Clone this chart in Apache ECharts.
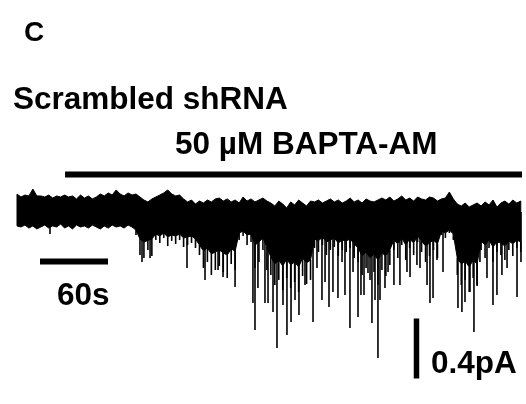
<!DOCTYPE html>
<html>
<head>
<meta charset="utf-8">
<script src="https://cdn.jsdelivr.net/npm/echarts@6/dist/echarts.min.js"></script>
<style>
  html, body { margin: 0; padding: 0; background: #fff; }
  #chart { width: 526px; height: 404px; }
</style>
</head>
<body>
<div id="chart"></div>
<script>
// Holding current (pA) vs time (s). The trace is stored as a downsampled
// envelope every 3.5 s: upper edge of the noise, lower edge of the solid
// band, and the tips of the dense downward deflections; plus the larger
// individual inward events (time, peak current).
const sampleStep = 3.5; // s between envelope samples

const traceTop = [
  0.12, 0.10, 0.113, 0.107, 0.153, 0.107,
  0.107, 0.10, 0.113, 0.093, 0.107, 0.10, 0.113,
  0.10, 0.107, 0.087, 0.113, 0.093, 0.107, 0.087, 0.10,
  0.12, 0.107, 0.127, 0.113, 0.147, 0.12, 0.107, 0.127, 0.113, 0.12, 0.10,
  0.08, 0.067, 0.087, 0.10,
  0.113, 0.127, 0.147, 0.12, 0.107, 0.113,
  0.087, 0.067, 0.08, 0.053, 0.073, 0.06, 0.08, 0.067, 0.087,
  0.093, 0.073, 0.087, 0.067, 0.08, 0.06, 0.10, 0.073, 0.087, 0.067, 0.08, 0.093, 0.073,
  0.06, 0.04, 0.073, 0.053, 0.027, 0.067, 0.047, 0.08, 0.06, 0.04, 0.073,
  0.067, 0.08, 0.06, 0.073, 0.087, 0.067, 0.08, 0.06, 0.073, 0.093, 0.067, 0.08, 0.06, 0.087, 0.073, 0.067, 0.08,
  0.093, 0.08, 0.10, 0.073, 0.087, 0.107, 0.08, 0.093, 0.073, 0.10, 0.087, 0.08, 0.10, 0.093, 0.073, 0.087, 0.093, 0.133, 0.087,
  0.053, 0.04, 0.06, 0.033, 0.047, 0.06, 0.04,
  0.067, 0.047, 0.08, 0.033, 0.06, 0.073, 0.053, 0.08, 0.06, 0.073
];

// lower edge of the solid part of the band
const traceCore = [
  -0.093, -0.10, -0.087, -0.107, -0.093, -0.113, -0.10, -0.087, -0.107, -0.093,
  -0.10, -0.08, -0.107, -0.093, -0.113, -0.087, -0.10, -0.093, -0.107, -0.087,
  -0.10, -0.113, -0.093, -0.107, -0.087, -0.10, -0.093, -0.107, -0.087, -0.10,
  -0.12, -0.18, -0.20, -0.19, -0.18,
  -0.147, -0.16, -0.14, -0.167, -0.153, -0.16, -0.147,
  -0.173, -0.167, -0.16, -0.18,
  -0.22, -0.26, -0.24, -0.28, -0.267, -0.253, -0.273, -0.287, -0.247, -0.26,
  -0.14, -0.127, -0.153, -0.147,
  -0.22, -0.20, -0.173, -0.233,
  -0.30, -0.347, -0.32, -0.36, -0.313, -0.353, -0.333, -0.367, -0.307, -0.34, -0.32,
  -0.18, -0.193, -0.167, -0.20, -0.187, -0.173, -0.207, -0.187, -0.193, -0.18, -0.213,
  -0.24, -0.293, -0.267, -0.307, -0.28, -0.32, -0.273, -0.293, -0.253,
  -0.187, -0.213, -0.173, -0.22, -0.18, -0.207, -0.16, -0.193, -0.227, -0.207, -0.187, -0.213,
  -0.127, -0.14, -0.12, -0.147,
  -0.307, -0.347, -0.327, -0.367, -0.32, -0.347,
  -0.193, -0.22, -0.187, -0.233, -0.20, -0.207, -0.227, -0.193, -0.213, -0.187, -0.20
];

// tips of the dense downward deflections
const traceBottom = [
  -0.093, -0.10, -0.087, -0.107, -0.093, -0.113, -0.10, -0.087, -0.107, -0.093,
  -0.10, -0.08, -0.107, -0.093, -0.113, -0.087, -0.10, -0.093, -0.107, -0.087,
  -0.10, -0.113, -0.093, -0.107, -0.087, -0.10, -0.093, -0.107, -0.087, -0.10,
  -0.153, -0.287, -0.307, -0.253, -0.293,
  -0.187, -0.207, -0.173, -0.227, -0.193, -0.213, -0.187,
  -0.233, -0.22, -0.207, -0.24,
  -0.287, -0.373, -0.333, -0.42, -0.387, -0.36, -0.40, -0.44, -0.347, -0.387,
  -0.187, -0.16, -0.22, -0.20,
  -0.373, -0.333, -0.253, -0.387,
  -0.42, -0.487, -0.453, -0.52, -0.44, -0.507, -0.467, -0.533, -0.427, -0.48, -0.453,
  -0.24, -0.267, -0.22, -0.287, -0.253, -0.233, -0.293, -0.253, -0.267, -0.24, -0.307,
  -0.333, -0.42, -0.373, -0.453, -0.40, -0.487, -0.387, -0.427, -0.353,
  -0.253, -0.307, -0.22, -0.32, -0.24, -0.287, -0.20, -0.267, -0.333, -0.293, -0.253, -0.307,
  -0.153, -0.173, -0.14, -0.187,
  -0.42, -0.487, -0.453, -0.533, -0.44, -0.493,
  -0.253, -0.307, -0.24, -0.333, -0.267, -0.287, -0.32, -0.253, -0.293, -0.24, -0.267
];

// Individual inward currents that reach beyond the noise band
const eventTimes = [
  29.1, 110.3, 117.4, 150.0, 165.9, 177.4, 181.8, 192.4, 208.2, 210.0,
  212.6, 218.8, 221.5, 225.9, 229.4, 234.7, 238.2, 241.8, 245.3, 248.8,
  254.1, 261.2, 264.7, 269.1, 271.8, 275.3, 278.8, 283.2, 286.8, 289.4,
  293.8, 296.5, 300.9, 303.5, 306.2, 309.7, 313.2, 315.9, 318.5, 320.3,
  324.7, 327.4, 332.6, 337.9, 344.1, 346.8, 352.9, 355.6, 361.8, 364.4,
  367.1, 370.6, 375.9, 389.1, 392.6, 395.3, 399.7, 403.2, 405.9, 408.5,
  414.7, 420.0, 423.5, 427.9, 432.4, 441.2, 444.7
];
const eventPeaks = [
  -0.147, -0.333, -0.307, -0.373, -0.453, -0.387, -0.433, -0.50, -0.607, -0.787,
  -0.507, -0.607, -0.607, -0.667, -0.907, -0.62, -0.82, -0.733, -0.587, -0.687,
  -0.487, -0.733, -0.373, -0.587, -0.467, -0.633, -0.533, -0.573, -0.333, -0.553,
  -0.773, -0.40, -0.70, -0.553, -0.553, -0.407, -0.74, -0.587, -0.973, -0.587,
  -0.507, -0.40, -0.487, -0.487, -0.40, -0.433, -0.353, -0.373, -0.487, -0.607,
  -0.573, -0.32, -0.40, -0.64, -0.667, -0.60, -0.533, -0.80, -0.487, -0.333,
  -0.44, -0.62, -0.553, -0.42, -0.373, -0.567, -0.333
];

// Drug application period and scale bars
const drugStart = 42.4, drugEnd = 445.6, drugLevel = 0.25;
const timeBar = { start: 20.3, length: 60, level: -0.33 };
const currentBar = { time: 352.5, top: -0.71, length: 0.4 };

const chart = echarts.init(document.getElementById('chart'), null, { renderer: 'canvas' });

const labelFont = 'bold 31.5px "Liberation Sans", Arial, sans-serif';

function verticalStroke(api, t, from, to, width) {
  const p0 = api.coord([t, from]);
  const p1 = api.coord([t, to]);
  return {
    type: 'line',
    shape: { x1: p0[0], y1: p0[1], x2: p1[0], y2: p1[1] },
    style: { stroke: '#000', lineWidth: width }
  };
}

const option = {
  animation: false,
  backgroundColor: '#ffffff',
  grid: { left: 17, top: 167, width: 505, height: 225 },
  xAxis: { type: 'value', min: 0, max: 445.6, show: false },
  yAxis: { type: 'value', min: -1.2, max: 0.3, show: false },
  series: [
    {
      // solid noise band of the recording
      type: 'custom',
      silent: true,
      clip: false,
      data: [[0, 0]],
      renderItem: function (params, api) {
        const pts = [];
        for (let i = 0; i < traceTop.length; i++) {
          pts.push(api.coord([i * sampleStep, traceTop[i]]));
        }
        for (let i = traceCore.length - 1; i >= 0; i--) {
          pts.push(api.coord([i * sampleStep, traceCore[i]]));
        }
        return {
          type: 'polygon',
          shape: { points: pts },
          style: { fill: '#000', stroke: '#000', lineWidth: 1 }
        };
      }
    },
    {
      // dense downward deflections below the solid band
      type: 'custom',
      silent: true,
      clip: false,
      data: traceBottom.map((v, i) => [i * sampleStep, v, traceCore[i]]),
      renderItem: function (params, api) {
        return verticalStroke(api, api.value(0), api.value(2), api.value(1), 1.6);
      }
    },
    {
      // larger inward events
      type: 'custom',
      silent: true,
      clip: false,
      data: eventTimes.map((t, k) => [t, eventPeaks[k]]),
      renderItem: function (params, api) {
        return verticalStroke(api, api.value(0), 0, api.value(1), 1.6);
      }
    },
    {
      // BAPTA-AM application bar
      type: 'line',
      silent: true,
      showSymbol: false,
      data: [[drugStart, drugLevel], [drugEnd, drugLevel]],
      lineStyle: { color: '#000', width: 6, cap: 'butt' }
    },
    {
      // time scale bar
      type: 'line',
      silent: true,
      showSymbol: false,
      data: [[timeBar.start, timeBar.level], [timeBar.start + timeBar.length, timeBar.level]],
      lineStyle: { color: '#000', width: 6, cap: 'butt' }
    },
    {
      // current scale bar
      type: 'line',
      silent: true,
      showSymbol: false,
      data: [[currentBar.time, currentBar.top], [currentBar.time, currentBar.top - currentBar.length]],
      lineStyle: { color: '#000', width: 5.5, cap: 'butt' }
    }
  ],
  graphic: [
    { type: 'text', left: 24, top: 19, style: { text: 'C', font: 'bold 28px "Liberation Sans", Arial, sans-serif', fill: '#000' } },
    { type: 'text', left: 13, top: 84, style: { text: 'Scrambled shRNA', font: labelFont, fill: '#000' } },
    { type: 'text', left: 175, top: 129, style: { text: '50 µM BAPTA-AM', font: labelFont, fill: '#000' } },
    { type: 'text', left: 57, top: 280, style: { text: '60s', font: labelFont, fill: '#000' } },
    { type: 'text', left: 431, top: 348, style: { text: '0.4pA', font: labelFont, fill: '#000' } }
  ]
};

chart.setOption(option);
</script>
</body>
</html>
